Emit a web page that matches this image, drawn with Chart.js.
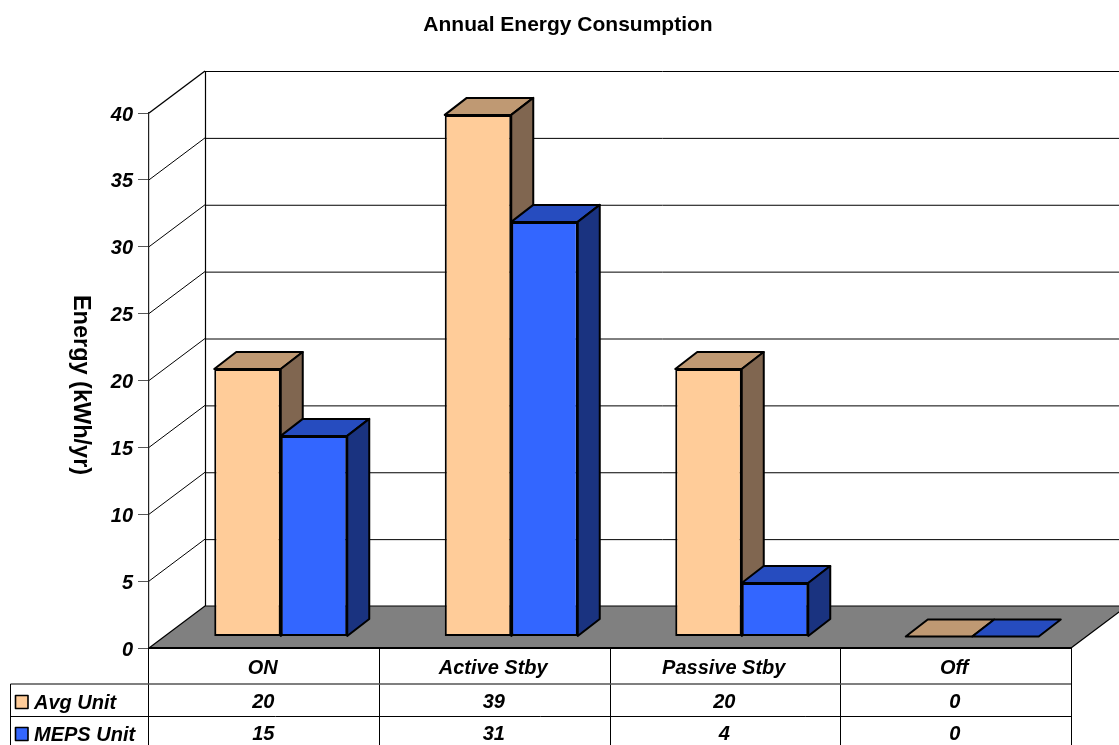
<!DOCTYPE html>
<html>
<head>
<meta charset="utf-8">
<style>
html,body{margin:0;padding:0;background:#fff;overflow:hidden}
#wrap{width:1119px;height:745px}
canvas{display:block}
</style>
<script src="https://cdn.jsdelivr.net/npm/chart.js@4"></script>
</head>
<body>
<div id="wrap"><canvas id="c" width="1119" height="745"></canvas></div>
<script>
const categories = ['ON', 'Active Stby', 'Passive Stby', 'Off'];
const avgUnit = [20, 39, 20, 0];
const mepsUnit = [15, 31, 4, 0];
const seriesNames = ['Avg Unit', 'MEPS Unit'];
const chartTitle = 'Annual Energy Consumption';
const yTitle = 'Energy (kWh/yr)';

const FONT = '"Liberation Sans", Arial, sans-serif';
const faces = {
  [seriesNames[0]]: { front: '#FFCC99', top: '#BF9973', side: '#806650' },
  [seriesNames[1]]: { front: '#3366FF', top: '#264CBF', side: '#1A3380' }
};

// Projection of the box: wall depth, and where the bars sit inside it.
const WALL = { dx: 56, dy: -42 };
const BAR_OFFSET = { dx: 16.5, dy: -11.5 };
const BAR_DEPTH = { dx: 22, dy: -17 };

function poly(ctx, pts, fill, stroke, lw) {
  ctx.beginPath();
  pts.forEach((p, i) => i ? ctx.lineTo(p[0], p[1]) : ctx.moveTo(p[0], p[1]));
  ctx.closePath();
  if (fill) { ctx.fillStyle = fill; ctx.fill(); }
  if (stroke) { ctx.strokeStyle = stroke; ctx.lineWidth = lw; ctx.lineJoin = 'round'; ctx.stroke(); }
}

function line(ctx, x1, y1, x2, y2, color, lw) {
  ctx.beginPath();
  ctx.moveTo(x1, y1);
  ctx.lineTo(x2, y2);
  ctx.strokeStyle = color;
  ctx.lineWidth = lw;
  ctx.stroke();
}

const box3d = {
  id: 'box3d',
  // Walls and floor first, then each series back to front so the second
  // series covers the side face of the first. Returning false replaces the
  // default reverse-order dataset pass.
  beforeDatasetsDraw(chart) {
    const { ctx, chartArea: a, scales: { y } } = chart;
    const bx = a.left + WALL.dx, right = a.right + WALL.dx;
    ctx.save();
    y.ticks.forEach(t => {
      const py = y.getPixelForValue(t.value);
      if (t.value > 0) {
        line(ctx, a.left, py, bx, py + WALL.dy, '#000', t.value === 40 ? 1.4 : 1);
        line(ctx, bx, py + WALL.dy + 0.5, right, py + WALL.dy + 0.5, '#000', 1);
      }
    });
    const by = y.getPixelForValue(0), ty = y.getPixelForValue(40);
    line(ctx, bx + 0.5, ty + WALL.dy, bx + 0.5, by + WALL.dy, '#000', 1.2);
    poly(ctx, [[a.left, by], [bx, by + WALL.dy], [right, by + WALL.dy], [a.right, by]], '#808080', '#000', 1.2);
    line(ctx, a.left, by, a.right, by, '#000', 2);
    ctx.restore();

    chart.data.datasets.forEach((ds, i) => {
      const meta = chart.getDatasetMeta(i);
      const c = faces[ds.label];
      ctx.save();
      ctx.translate(BAR_OFFSET.dx, BAR_OFFSET.dy);
      meta.data.forEach(el => {
        const l = el.x - el.width / 2, r = el.x + el.width / 2, t = el.y, b = el.base;
        const dx = BAR_DEPTH.dx, dy = BAR_DEPTH.dy;
        poly(ctx, [[l, t], [l + dx, t + dy], [r + dx, t + dy], [r, t]], c.top, '#000', 2);
        if (b > t) poly(ctx, [[r, t], [r + dx, t + dy], [r + dx, b + dy], [r, b]], c.side, '#000', 2);
      });
      meta.controller.draw();
      ctx.restore();
    });
    return false;
  },
  // Axis caption and the data table below the plot.
  afterDraw(chart) {
    const { ctx, chartArea: a, scales: { x } } = chart;
    const edges = [a.left - 1];
    categories.forEach((_, i) => edges.push(a.left + (a.right - a.left) * (i + 1) / categories.length));
    const rows = [684, 716.5], tableBottom = 745, tableLeft = 10.5;
    ctx.save();
    ctx.fillStyle = '#000';
    ctx.textAlign = 'center';
    ctx.textBaseline = 'middle';
    ctx.save();
    ctx.translate(80, 385);
    ctx.rotate(Math.PI / 2);
    ctx.font = 'bold 23.5px ' + FONT;
    ctx.fillText(yTitle, 0, 0);
    ctx.restore();

    edges.forEach(ex => line(ctx, Math.floor(ex) + 0.5, a.bottom, Math.floor(ex) + 0.5, tableBottom, '#000', 1));
    line(ctx, tableLeft, rows[0], a.right, rows[0], '#555', 1.5);
    line(ctx, tableLeft, rows[1], a.right, rows[1], '#000', 1);
    line(ctx, tableLeft, rows[0], tableLeft, tableBottom, '#000', 1);

    const tableValues = [avgUnit, mepsUnit];
    seriesNames.forEach((name, r) => {
      const cy = r === 0 ? 702 : 734;
      poly(ctx, [[15.5, cy - 6.5], [28, cy - 6.5], [28, cy + 6.5], [15.5, cy + 6.5]], faces[name].front, '#000', 1.6);
      ctx.fillStyle = '#000';
      ctx.font = 'italic bold 20px ' + FONT;
      ctx.textAlign = 'left';
      ctx.fillText(name, 34, cy + 1.5);
      ctx.textAlign = 'center';
      tableValues[r].forEach((v, i) => ctx.fillText(String(v), x.getPixelForTick(i) - 1, cy));
    });
    ctx.restore();
  }
};

new Chart(document.getElementById('c'), {
  type: 'bar',
  data: {
    labels: categories,
    datasets: [
      { label: seriesNames[0], data: avgUnit, backgroundColor: faces[seriesNames[0]].front },
      { label: seriesNames[1], data: mepsUnit, backgroundColor: faces[seriesNames[1]].front }
    ].map(d => Object.assign(d, {
      borderColor: '#000',
      borderWidth: 2,
      borderSkipped: false,
      categoryPercentage: 133 / 230.5,
      barPercentage: 1,
      clip: false
    }))
  },
  options: {
    responsive: false,
    animation: false,
    layout: { padding: { left: 65, right: 48, top: 0, bottom: 0 } },
    plugins: {
      legend: { display: false },
      tooltip: { enabled: false },
      title: {
        display: true,
        text: chartTitle,
        color: '#000',
        font: { family: FONT, size: 21, weight: 'bold' },
        padding: { top: 13, bottom: 74.8 }
      }
    },
    scales: {
      x: {
        afterFit(s) { s.height = 97; },
        grid: { display: false },
        border: { display: false },
        ticks: {
          color: '#000',
          padding: 0,
          maxRotation: 0,
          labelOffset: -1.5,
          font: { family: FONT, size: 20, weight: 'bold', style: 'italic' }
        }
      },
      y: {
        min: 0,
        max: 40,
        afterFit(s) { s.width = 84; },
        grid: { drawOnChartArea: false, tickLength: 11, color: '#555', lineWidth: 1 },
        border: { display: true, color: '#222', width: 1.2 },
        ticks: {
          stepSize: 5,
          color: '#000',
          padding: 5,
          labelOffset: 2,
          font: { family: FONT, size: 20, weight: 'bold', style: 'italic' }
        }
      }
    }
  },
  plugins: [box3d]
});
</script>
</body>
</html>
